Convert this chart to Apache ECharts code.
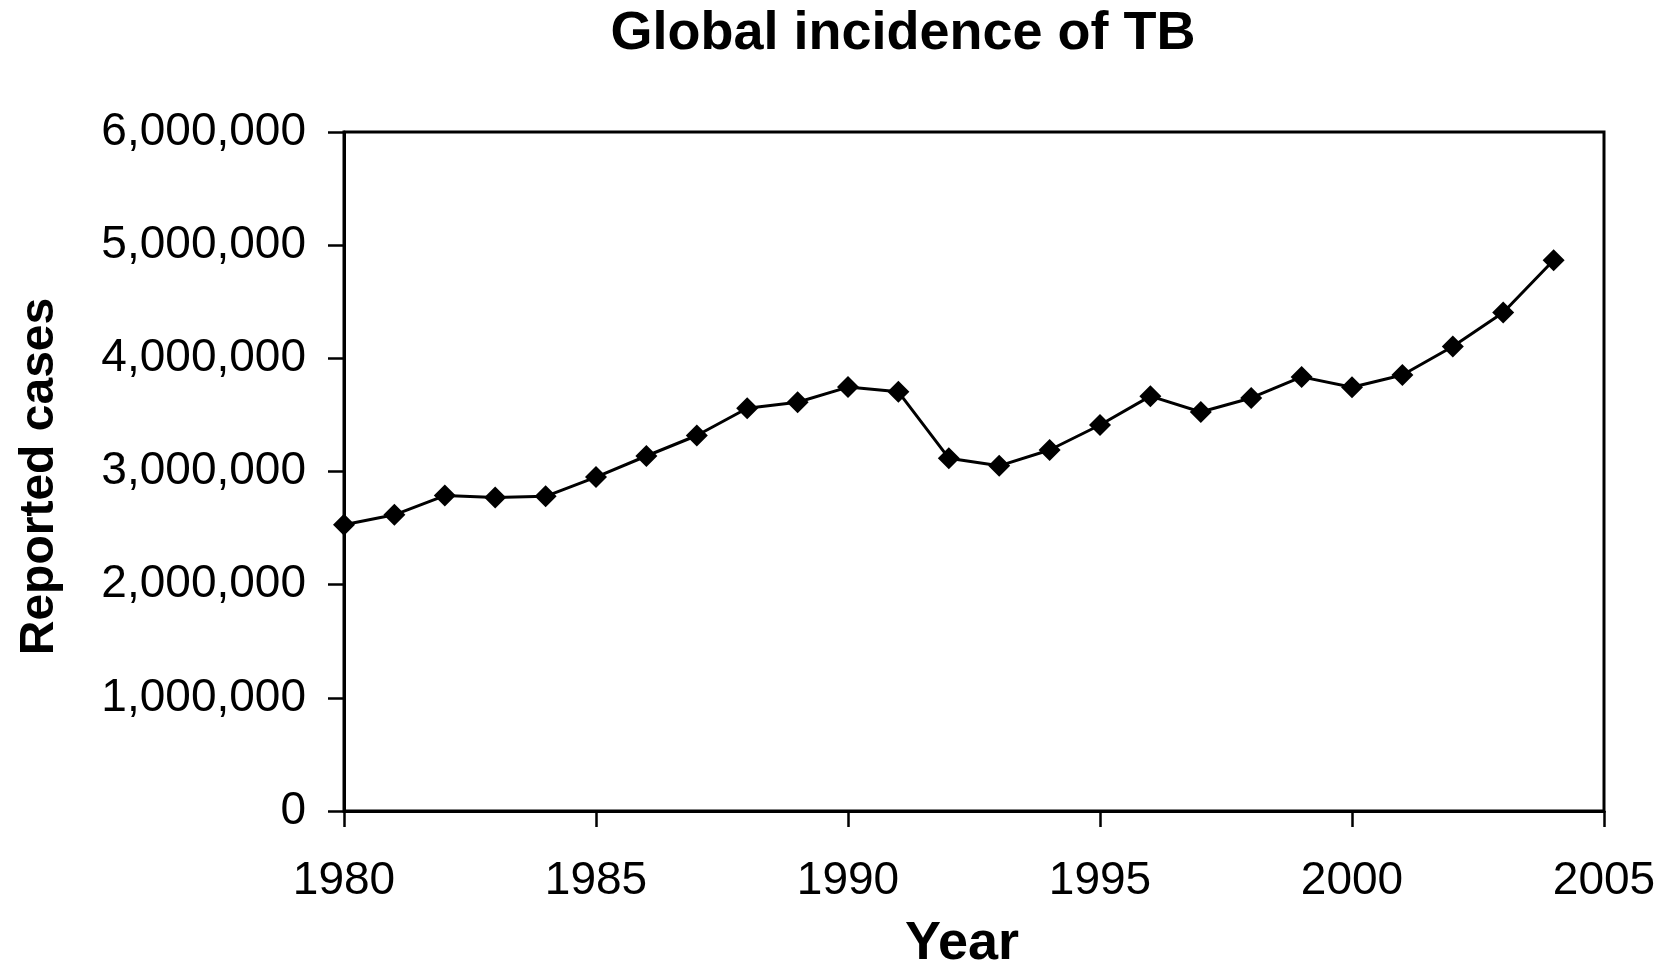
<!DOCTYPE html>
<html>
<head>
<meta charset="utf-8">
<title>Global incidence of TB</title>
<script src="https://cdn.jsdelivr.net/npm/echarts@6/dist/echarts.min.js"></script>
<style>
  html, body { margin: 0; padding: 0; background: #fff; }
  #chart { width: 1671px; height: 961px; }
</style>
</head>
<body>
<div id="chart"></div>
<script>
// years and reported TB cases
var years = [1980, 1981, 1982, 1983, 1984, 1985, 1986, 1987, 1988, 1989, 1990, 1991, 1992,
  1993, 1994, 1995, 1996, 1997, 1998, 1999, 2000, 2001, 2002, 2003, 2004]
var cases = [2530000, 2617000, 2787000, 2771000, 2781000, 2951000, 3137000, 3318000, 3559000,
  3612000, 3746000, 3704000, 3118000, 3050000, 3190000, 3411000, 3666000, 3526000, 3650000,
  3836000, 3744000, 3853000, 4105000, 4405000, 4866000]

var font = '"Liberation Sans", Arial, sans-serif'

function fmt(v) {
  return String(v).replace(/\B(?=(\d{3})+(?!\d))/g, ',')
}

var chart = echarts.init(document.getElementById('chart'))
chart.setOption({
  animation: false,
  backgroundColor: '#fff',
  title: {
    text: 'Global incidence of TB',
    left: 898,
    top: 2,
    textAlign: 'center',
    textStyle: { fontFamily: font, fontSize: 54, fontWeight: 'bold', color: '#000' }
  },
  grid: {
    left: 344,
    right: 67,
    top: 132,
    bottom: 150,
    outerBoundsMode: 'none',
    containLabel: false,
    show: true,
    borderColor: '#000',
    borderWidth: 3,
    backgroundColor: 'transparent'
  },
  xAxis: {
    type: 'value',
    min: 1980,
    max: 2005,
    interval: 5,
    name: 'Year',
    nameLocation: 'middle',
    nameGap: 106,
    nameMoveOverlap: false,
    nameTextStyle: { fontFamily: font, fontSize: 54, fontWeight: 'bold', color: '#000',
      padding: [0, 24, 0, 0] },
    axisLine: { show: true, lineStyle: { color: '#000', width: 3 } },
    axisTick: { show: true, length: 16, lineStyle: { color: '#000', width: 2.5 } },
    axisLabel: { fontFamily: font, fontSize: 46, color: '#000', margin: 47,
      formatter: function (v) { return String(v) } },
    splitLine: { show: false }
  },
  yAxis: {
    type: 'value',
    min: 0,
    max: 6000000,
    interval: 1000000,
    name: 'Reported cases',
    nameLocation: 'middle',
    nameGap: 280,
    nameMoveOverlap: false,
    nameTextStyle: { fontFamily: font, fontSize: 48, fontWeight: 'bold', color: '#000',
      padding: [0, 10, 0, 0] },
    axisLine: { show: true, lineStyle: { color: '#000', width: 3 } },
    axisTick: { show: true, length: 16, lineStyle: { color: '#000', width: 2.5 } },
    axisLabel: { fontFamily: font, fontSize: 46, color: '#000', margin: 38, formatter: fmt },
    splitLine: { show: false }
  },
  series: [
    {
      name: 'Reported cases',
      type: 'line',
      data: years.map(function (y, i) { return [y, cases[i]] }),
      symbol: 'diamond',
      symbolSize: 22,
      showAllSymbol: true,
      lineStyle: { color: '#000', width: 3 },
      itemStyle: { color: '#000' }
    }
  ]
})
</script>
</body>
</html>
